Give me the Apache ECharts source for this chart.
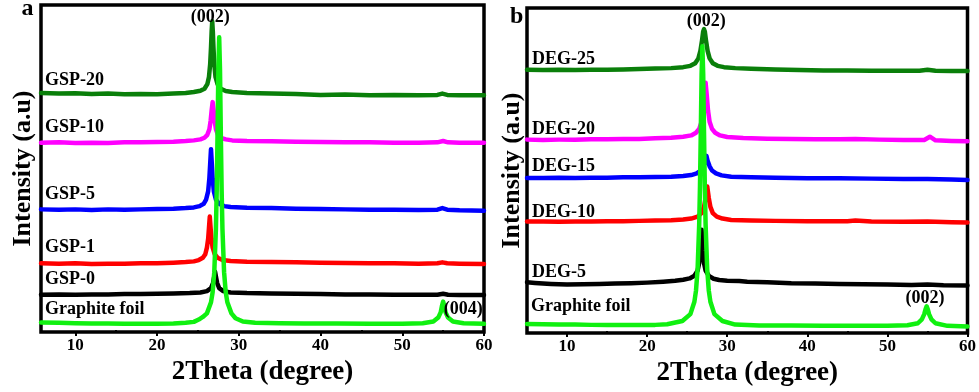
<!DOCTYPE html>
<html>
<head>
<meta charset="utf-8">
<script src="https://cdn.jsdelivr.net/npm/echarts@6/dist/echarts.min.js"></script>
<style>
  html, body { margin: 0; padding: 0; background: #fff; }
  #chart-container { width: 979px; height: 392px; }
</style>
</head>
<body>
<div id="chart-container"></div>
<script>
var dom = document.getElementById("chart-container");
var myChart = echarts.init(dom, null, { renderer: "canvas" });

var FONT = "'Liberation Serif', 'Times New Roman', serif";

// tick values for both panels
var majorTicks = [10, 20, 30, 40, 50, 60];
var minorTicks = [15, 25, 35, 45, 55];

// panel a : series names and [2theta, intensity] points (offset stacked, a.u.)
var namesA = ["GSP-20", "GSP-10", "GSP-5", "GSP-1", "GSP-0", "Graphite foil"];
var colorsA = ["#0a7f0a", "#ff00ff", "#0000ff", "#ff0000", "#000000", "#10f010"];

var gsp20 = [[5.8,73.1],[8,72.9],[10,73.0],[12,72.8],[14,72.9],[16,72.7],[18,72.8],[20,72.7],[22,72.9],[23.5,73.1],[24.5,73.4],[25.3,73.8],[25.8,74.4],[26.15,75.8],[26.35,78],[26.5,82],[26.6,87],[26.68,92],[26.75,95],[26.82,92],[26.9,87],[27.0,82],[27.15,78],[27.4,75.8],[27.8,74.4],[28.4,73.7],[29.2,73.4],[31,73.1],[34,72.9],[37,72.8],[40,72.5],[43,72.6],[46,72.4],[49,72.5],[52,72.4],[54.3,72.5],[54.9,72.9],[55.5,72.5],[57,72.4],[60,72.4]];
var gsp10 = [[5.8,57.9],[8,58.0],[10,57.8],[12,57.9],[14,57.8],[16,58.0],[18,58.0],[20,58.1],[22,58.2],[23.5,58.4],[24.5,58.6],[25.3,58.9],[25.8,59.4],[26.15,60.3],[26.4,62],[26.55,64.5],[26.68,67.8],[26.8,70.3],[26.92,67.8],[27.05,64.5],[27.2,62],[27.45,60.3],[27.8,59.4],[28.4,58.9],[29.2,58.6],[31,58.4],[34,58.3],[37,58.2],[40,58.1],[43,58.0],[46,58.0],[49,57.9],[52,57.9],[54.3,58.0],[55,58.4],[55.6,58.0],[57,57.9],[60,57.9]];
var gsp5 = [[5.8,37.5],[8,37.4],[10,37.5],[12,37.3],[14,37.5],[16,37.4],[18,37.5],[20,37.6],[22,37.7],[23.5,37.9],[24.5,38.1],[25.2,38.5],[25.7,39.2],[26.0,40.5],[26.25,43],[26.4,47],[26.5,51.5],[26.6,55.9],[26.7,51.5],[26.8,47],[26.95,43],[27.2,40.5],[27.6,39.2],[28.2,38.5],[29,38.2],[31,38.0],[34,37.9],[37,37.7],[40,37.6],[43,37.5],[46,37.4],[49,37.4],[52,37.3],[54.3,37.4],[54.9,37.9],[55.5,37.4],[57,37.2],[60,37.1]];
var gsp1 = [[5.8,21.0],[8,20.9],[10,21.0],[12,20.8],[14,20.9],[16,20.9],[18,21.0],[20,21.0],[22,21.2],[23.5,21.4],[24.5,21.6],[25.1,22.0],[25.6,22.7],[25.9,23.8],[26.1,25.8],[26.25,28.5],[26.35,31.8],[26.45,35.3],[26.55,31.8],[26.65,28.5],[26.8,25.8],[27.05,23.8],[27.4,22.7],[28,22.0],[29,21.7],[31,21.5],[34,21.4],[37,21.3],[40,21.2],[43,21.1],[46,21.0],[49,21.0],[52,20.9],[54.3,21.0],[54.9,21.3],[55.5,21.0],[57,20.9],[60,20.8]];
var gsp0 = [[5.8,11.4],[8,11.5],[10,11.4],[12,11.5],[14,11.5],[16,11.6],[18,11.6],[20,11.7],[22,11.8],[24,11.9],[25.3,12.1],[26.1,12.5],[26.6,13.4],[26.85,15],[27.0,17],[27.1,18.4],[27.2,17],[27.35,15],[27.6,13.4],[28.1,12.5],[29,12.1],[31,11.9],[34,11.8],[37,11.7],[40,11.6],[43,11.5],[46,11.5],[49,11.4],[52,11.4],[54.3,11.4],[55,11.7],[55.6,11.4],[57,11.3],[60,11.3]];
var foilA = [[5.8,2.9],[8,2.8],[10,2.7],[12,2.6],[14,2.6],[16,2.5],[18,2.5],[20,2.5],[22,2.6],[23.5,2.8],[24.5,3.1],[25.1,3.8],[25.6,4.6],[26.1,5.7],[26.6,9.1],[26.8,12.2],[27.0,18.3],[27.2,31.5],[27.3,43.4],[27.4,60.6],[27.5,80.2],[27.6,90.1],[27.7,80.2],[27.8,60.6],[27.9,43.4],[28.0,31.5],[28.2,18.3],[28.4,12.2],[28.6,9.1],[29.1,5.7],[29.6,4.2],[30.5,3.2],[32,2.8],[35,2.7],[38,2.6],[42,2.6],[46,2.5],[50,2.5],[52.5,2.7],[53.8,3.2],[54.4,4.4],[54.7,6.0],[54.85,7.9],[55.0,9.3],[55.15,7.9],[55.3,6.0],[55.6,4.4],[56.2,3.2],[57.5,2.7],[60,2.5]];

// panel b
var namesB = ["DEG-25", "DEG-20", "DEG-15", "DEG-10", "DEG-5", "Graphite foil"];
var colorsB = ["#0a7f0a", "#ff00ff", "#0000ff", "#ff0000", "#000000", "#10f010"];

var deg25 = [[5,81.0],[7,80.9],[9,81.0],[11,80.9],[13,81.0],[15,81.0],[17,81.1],[19,81.2],[21,81.4],[23,81.5],[24.5,81.8],[25.4,82.2],[26.0,83.0],[26.4,84.5],[26.65,86.8],[26.85,90],[27.0,92.8],[27.1,93.5],[27.2,92.8],[27.35,90],[27.55,86.8],[27.8,84.5],[28.2,83.0],[28.8,82.2],[29.6,81.8],[31,81.5],[33,81.3],[36,81.1],[39,80.9],[42,80.8],[45,80.8],[48,80.7],[51,80.7],[54,80.7],[55,81.0],[56,80.7],[58,80.6],[60,80.6]];
var deg20 = [[5,59.5],[7,59.4],[9,59.5],[11,59.5],[13,59.6],[15,59.6],[17,59.7],[19,59.7],[21,59.9],[23,60.1],[24.5,60.4],[25.5,60.8],[26.1,61.6],[26.5,62.8],[26.8,65],[27.0,68.5],[27.15,73],[27.3,77],[27.45,73],[27.6,68.5],[27.8,65],[28.1,62.8],[28.5,61.6],[29.1,60.8],[30,60.3],[32,60.0],[35,59.8],[38,59.7],[41,59.6],[44,59.6],[46,59.7],[49,59.5],[52,59.4],[54.6,59.4],[55.3,60.4],[56,59.3],[58,59.1],[60,59.0]];
var deg15 = [[5,47.7],[7,47.7],[9,47.8],[11,47.7],[13,47.8],[15,47.8],[17,47.9],[19,47.9],[21,48.0],[23,48.1],[24.5,48.3],[25.5,48.6],[26.2,49.1],[26.7,50.0],[27.0,51.3],[27.25,53],[27.4,54.5],[27.55,53],[27.8,51.3],[28.1,50.0],[28.6,49.1],[29.3,48.5],[30.5,48.1],[33,47.9],[36,47.8],[40,47.6],[44,47.6],[48,47.5],[52,47.4],[55,47.4],[58,47.2],[60,47.1]];
var deg10 = [[5,34.3],[7,34.3],[9,34.2],[11,34.3],[13,34.3],[15,34.4],[17,34.4],[19,34.5],[21,34.6],[23,34.7],[24.5,34.9],[25.5,35.2],[26.3,35.8],[26.8,36.9],[27.1,38.8],[27.3,41.5],[27.5,45.1],[27.7,41.5],[27.9,38.8],[28.2,36.9],[28.7,35.8],[29.4,35.2],[30.5,34.8],[33,34.6],[36,34.5],[40,34.4],[45,34.4],[46,34.6],[48,34.3],[52,34.2],[55,34.3],[56,34.2],[58,34.1],[60,34.0]];
var deg5 = [[5,15.6],[6,15.4],[8,15.1],[10,14.9],[12,15.0],[14,15.1],[16,15.2],[18,15.3],[20,15.5],[22,15.8],[23.5,16.1],[24.5,16.4],[25.3,16.8],[25.9,17.6],[26.3,19.2],[26.5,21.5],[26.65,25.5],[26.8,31.8],[26.95,25.5],[27.1,21.5],[27.3,19.2],[27.7,17.6],[28.3,16.7],[29,16.3],[30,16.1],[31.5,16.0],[32.5,15.8],[35,15.6],[38,15.3],[41,15.2],[44,15.1],[47,15.0],[50,14.9],[53,14.8],[55,14.9],[57,14.7],[60,14.6]];
var foilB = [[5,2.8],[7,2.7],[9,2.6],[11,2.6],[13,2.5],[15,2.5],[17,2.5],[19,2.5],[21,2.5],[22.5,2.7],[24.4,3.7],[25.4,5.8],[25.9,9.6],[26.1,13.0],[26.3,19.6],[26.5,33.4],[26.6,45.4],[26.7,61.8],[26.8,79.6],[26.9,88.2],[27.0,79.6],[27.1,61.8],[27.2,45.4],[27.3,33.4],[27.5,19.6],[27.7,13.0],[27.9,9.6],[28.4,5.8],[29.4,3.7],[31,2.6],[34,2.3],[38,2.3],[42,2.2],[46,2.2],[50,2.2],[52.5,2.4],[53.8,3.0],[54.3,4.2],[54.6,5.8],[54.75,7.2],[54.9,8.2],[55.05,7.2],[55.2,5.8],[55.5,4.2],[56,3.0],[57.5,2.2],[60,2.0]];

var dataA = [gsp20, gsp10, gsp5, gsp1, gsp0, foilA];
var dataB = [deg25, deg20, deg15, deg10, deg5, foilB];

function makeSeries(names, colors, data, axisIdx) {
  return names.map(function (n, i) {
    return {
      name: n,
      type: "line",
      xAxisIndex: axisIdx,
      yAxisIndex: axisIdx,
      showSymbol: false,
      silent: true,
      lineStyle: { color: colors[i], width: 4.5, join: "round", cap: "round" },
      data: data[i],
    };
  });
}

function mainX(grid, min) {
  return {
    type: "value", gridIndex: grid, min: min, max: 60,
    name: "2Theta (degree)", nameLocation: "middle", nameGap: 22,
    nameTextStyle: { fontFamily: FONT, fontWeight: "bold", fontSize: 27, color: "#000" },
    axisLine: { show: false },
    axisTick: { show: true, inside: false, length: 4, customValues: majorTicks,
      lineStyle: { color: "#000", width: 2 } },
    axisLabel: { customValues: majorTicks, margin: 5, color: "#000",
      fontFamily: FONT, fontWeight: "bold", fontSize: 17 },
    splitLine: { show: false },
  };
}
function minorX(grid, min) {
  return {
    type: "value", gridIndex: grid, min: min, max: 60,
    axisLine: { show: false },
    axisTick: { show: true, length: 2, customValues: minorTicks,
      lineStyle: { color: "#000", width: 2 } },
    axisLabel: { show: false },
    splitLine: { show: false },
  };
}
function yAx(grid, gap) {
  return {
    type: "value", gridIndex: grid, min: 0, max: 100,
    name: "Intensity (a.u)", nameLocation: "middle", nameGap: gap,
    nameTextStyle: { fontFamily: FONT, fontWeight: "bold", fontSize: 26, color: "#000" },
    axisLine: { show: false }, axisTick: { show: false },
    axisLabel: { show: false }, splitLine: { show: false },
  };
}

function txt(s, x, y, size, align) {
  return {
    type: "text", x: x, y: y, z: 100,
    style: { text: s, fill: "#000", font: "bold " + size + "px " + FONT,
      align: align || "left", verticalAlign: "middle" },
  };
}

var option = {
  animation: false,
  backgroundColor: "#fff",
  grid: [
    { left: 41, right: 495, top: 5, bottom: 60, show: true, borderColor: "#000", borderWidth: 3.5 },
    { left: 527, right: 9, top: 8, bottom: 59, show: true, borderColor: "#000", borderWidth: 3.5 },
  ],
  xAxis: [mainX(0, 5.8), mainX(1, 5), minorX(0, 5.8), minorX(1, 5)],
  yAxis: [yAx(0, 5), yAx(1, 2), { gridIndex: 0, show: false, min: 0, max: 100 }, { gridIndex: 1, show: false, min: 0, max: 100 }],
  series: makeSeries(namesA, colorsA, dataA, 0).concat(makeSeries(namesB, colorsB, dataB, 1)),
  graphic: [
    txt("a", 27.5, 9, 24, "center"),
    txt("b", 516.7, 17, 24, "center"),
    txt("GSP-20", 45, 80, 18), txt("GSP-10", 45, 127.5, 18), txt("GSP-5", 45, 194.5, 18),
    txt("GSP-1", 45, 247.5, 18), txt("GSP-0", 45, 279.5, 18), txt("Graphite foil", 45, 309, 18),
    txt("(002)", 210.3, 17, 18, "center"), txt("(004)", 463.3, 309, 18, "center"),
    txt("DEG-25", 532, 59, 18), txt("DEG-20", 532, 129, 18), txt("DEG-15", 532, 166.7, 18),
    txt("DEG-10", 532, 212, 18), txt("DEG-5", 532, 272, 18), txt("Graphite foil", 531, 306, 18),
    txt("(002)", 706.3, 21, 18, "center"), txt("(002)", 925, 298, 18, "center"),
  ],
};

myChart.setOption(option);
window.addEventListener("resize", function () { myChart.resize(); });
</script>
</body>
</html>
